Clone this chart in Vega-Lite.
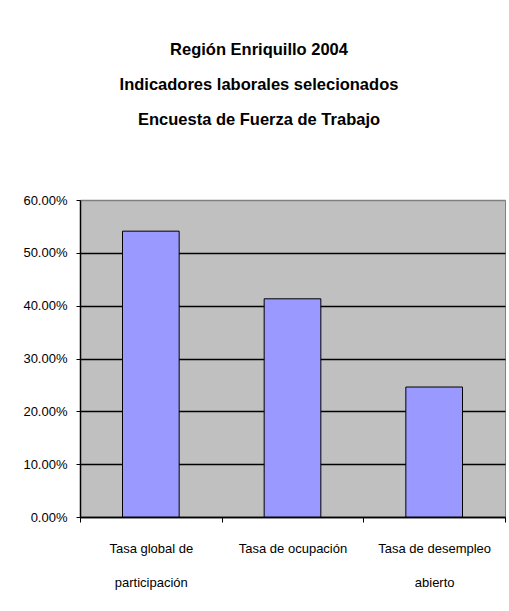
{
  "$schema": "https://vega.github.io/schema/vega-lite/v6.json",
  "width": 425,
  "height": 317,
  "autosize": {"type": "none"},
  "padding": {"left": 80, "top": 200, "right": 4, "bottom": 94},
  "background": "white",
  "title": {
    "text": ["Región Enriquillo 2004", "Indicadores laborales selecionados", "Encuesta de Fuerza de Trabajo"],
    "font": "Liberation Sans",
    "fontSize": 16.5,
    "fontWeight": "bold",
    "lineHeight": 35,
    "anchor": "middle",
    "dx": -33.5,
    "offset": 66,
    "color": "black"
  },
  "data": {
    "values": [
      {"indicador": "Tasa global de\nparticipación", "tasa": 0.541},
      {"indicador": "Tasa de ocupación", "tasa": 0.413},
      {"indicador": "Tasa de desempleo\nabierto", "tasa": 0.246}
    ]
  },
  "mark": {"type": "bar", "fill": "#9999FF", "stroke": "#000000", "strokeWidth": 1, "width": {"band": 0.4}},
  "encoding": {
    "x": {
      "field": "indicador",
      "type": "nominal",
      "sort": null,
      "scale": {"paddingInner": 0, "paddingOuter": 0},
      "axis": {
        "title": null,
        "labelAngle": 0,
        "labelExpr": "split(datum.label, '\\n')",
        "tickBand": "extent",
        "domainColor": "black",
        "domainWidth": 1.5,
        "tickColor": "black",
        "tickWidth": 1,
        "tickSize": 5,
        "labelPadding": 20,
        "labelFont": "Liberation Sans",
        "labelFontSize": 13,
        "labelLineHeight": 34,
        "labelColor": "black",
        "labelBaseline": "top",
        "labelLimit": 200
      }
    },
    "y": {
      "field": "tasa",
      "type": "quantitative",
      "scale": {"domain": [0, 0.6]},
      "axis": {
        "title": null,
        "format": ".2%",
        "values": [0, 0.1, 0.2, 0.3, 0.4, 0.5, 0.6],
        "grid": true,
        "gridColor": {"condition": {"test": "datum.value >= 0.59", "value": "#808080"}, "value": "black"},
        "gridWidth": 1.5,
        "domainColor": "black",
        "domainWidth": 1.5,
        "tickColor": "black",
        "tickSize": 4,
        "labelPadding": 9,
        "labelFont": "Liberation Sans",
        "labelFontSize": 13,
        "labelColor": "black"
      }
    }
  },
  "config": {
    "view": {"fill": "#C0C0C0", "stroke": "#808080", "strokeWidth": 1}
  }
}
